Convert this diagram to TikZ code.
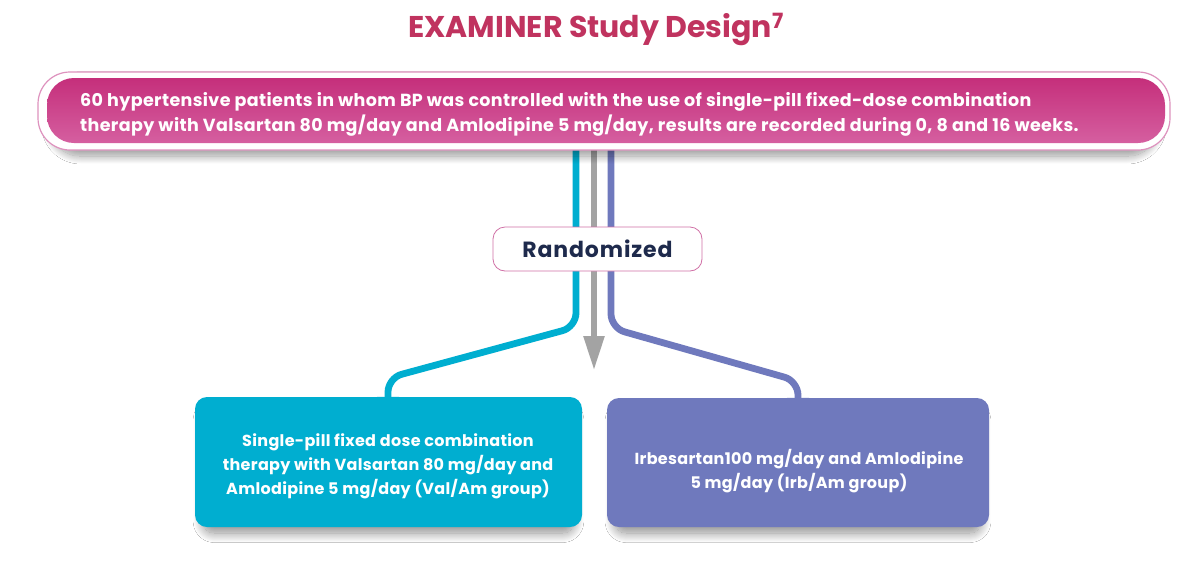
\documentclass[tikz,border=0pt]{standalone}
\usepackage{fontspec}
\setmainfont{Poppins}
\usetikzlibrary{arrows.meta,shadows.blur}
\definecolor{titlecol}{HTML}{C0335F}
\definecolor{magtop}{HTML}{C52F7B}
\definecolor{magbot}{HTML}{D55FA0}
\definecolor{bannerline}{HTML}{DE92BE}
\definecolor{cyanc}{HTML}{00AED0}
\definecolor{purpc}{HTML}{6F79BD}
\definecolor{grayc}{HTML}{A3A3A3}
\definecolor{navy}{HTML}{1E2A4C}
\definecolor{randline}{HTML}{D070A6}
\begin{document}
\begin{tikzpicture}[x=1pt,y=-1pt,
  softshadow/.style={blur shadow={shadow xshift=0pt,shadow yshift=-9pt,shadow scale=0.96,shadow blur radius=10pt,shadow blur steps=24,shadow opacity=45}},
  groupbox/.style={rectangle, rounded corners=12pt, inner sep=0pt, softshadow},
  boxtext/.style={text=white, font=\fontsize{16}{24}\selectfont\bfseries\addfontfeature{LetterSpace=2}, align=center, inner sep=0pt},
  cyanline/.style={draw=cyanc, line width=6.8pt, rounded corners=14pt},
  purpline/.style={draw=purpc, line width=6.8pt, rounded corners=14pt},
  grayline/.style={draw=grayc, line width=5.6pt, -{Triangle[width=20pt,length=34pt]}},
  randbox/.style={rectangle, rounded corners=12pt, draw=randline, line width=0.8pt, fill=white,
    minimum width=209pt, minimum height=44pt, inner sep=0pt, text=navy,
    font=\fontsize{22}{24}\selectfont\bfseries\addfontfeature{LetterSpace=4}},
  bannerout/.style={rectangle, rounded corners=32pt, draw=bannerline, line width=1.2pt, fill=white,
    minimum width=1132pt, minimum height=78pt, inner sep=0pt,
    blur shadow={shadow xshift=0pt,shadow yshift=-7pt,shadow scale=0.98,shadow blur radius=8pt,shadow blur steps=24,shadow opacity=40}},
  bannerin/.style={rectangle, rounded corners=27pt, top color=magtop, bottom color=magbot, draw=none,
    minimum width=1118pt, minimum height=65pt, inner sep=0pt},
  bannertext/.style={text=white, font=\fontsize{17.5}{25}\selectfont\bfseries\addfontfeature{LetterSpace=2.1}, align=left, inner sep=0pt, anchor=west},
  titlestyle/.style={text=titlecol, font=\fontsize{30}{34}\selectfont\bfseries, inner sep=0pt}
]
\fill[white] (0,0) rectangle (1200,574);
\useasboundingbox (0,0) rectangle (1200,574);

% nodes (boxes drawn later over the connectors)
\path (604,111) node[minimum width=1132pt, minimum height=78pt, inner sep=0pt] (banner) {};
\path (388.5,462) node[minimum width=387pt, minimum height=130pt, inner sep=0pt] (lbox) {};
\path (798,462.5) node[minimum width=382pt, minimum height=129pt, inner sep=0pt] (rbox) {};
\coordinate (cx) at (576,0);
\coordinate (gx) at (594,0);
\coordinate (px) at (611,0);
\coordinate (lx) at (388,0);
\coordinate (rx) at (798,0);
\coordinate (garrowend) at (594,370);

% connectors
\draw[cyanline] (banner.south -| cx) -- (576,327) -- (388,378) -- (lbox.north -| lx);
\draw[purpline] (banner.south -| px) -- (611,328) -- (798,381) -- (rbox.north -| rx);
\draw[grayline] (banner.south -| gx) -- (garrowend);

% randomized
\node[randbox] (rand) at (597.5,249) {Randomized};

% group boxes
\node[groupbox, fill=cyanc, minimum width=387pt, minimum height=130pt] (lboxfill) at (lbox) {};
\node[groupbox, fill=purpc, minimum width=382pt, minimum height=129pt] (rboxfill) at (rbox) {};
% flares joining connectors to boxes
\fill[cyanc] ([xshift=-11pt]lbox.north -| lx) .. controls ([xshift=-5pt]lbox.north -| lx) and ([xshift=-3.4pt,yshift=-4pt]lbox.north -| lx) .. ([xshift=-3.4pt,yshift=-9pt]lbox.north -| lx)
  -- ([xshift=3.4pt,yshift=-9pt]lbox.north -| lx) .. controls ([xshift=3.4pt,yshift=-4pt]lbox.north -| lx) and ([xshift=5pt]lbox.north -| lx) .. ([xshift=11pt]lbox.north -| lx) -- cycle;
\fill[purpc] ([xshift=-11pt]rbox.north -| rx) .. controls ([xshift=-5pt]rbox.north -| rx) and ([xshift=-3.4pt,yshift=-4pt]rbox.north -| rx) .. ([xshift=-3.4pt,yshift=-9pt]rbox.north -| rx)
  -- ([xshift=3.4pt,yshift=-9pt]rbox.north -| rx) .. controls ([xshift=3.4pt,yshift=-4pt]rbox.north -| rx) and ([xshift=5pt]rbox.north -| rx) .. ([xshift=11pt]rbox.north -| rx) -- cycle;

\node[boxtext] (ltext) at (388,466) {Single-pill fixed dose combination\\therapy with Valsartan 80 mg/day and\\Amlodipine 5 mg/day (Val/Am group)};
\node[boxtext] (rtext) at (799,471) {Irbesartan100 mg/day and Amlodipine\\5 mg/day (Irb/Am group)};

% banner
\node[bannerout] (bannerframe) at (banner) {};
\node[bannerin] (bannerfill) at (606,110.5) {};
\node[bannertext] (btext) at (80,114) {60 hypertensive patients in whom BP was controlled with the use of single-pill fixed-dose combination\\therapy with Valsartan 80 mg/day and Amlodipine 5 mg/day, results are recorded during 0, 8 and 16 weeks.};

% title
\node[titlestyle] (title) at (596,29) {EXAMINER Study Design\textsuperscript{7}};
\end{tikzpicture}
\end{document}
